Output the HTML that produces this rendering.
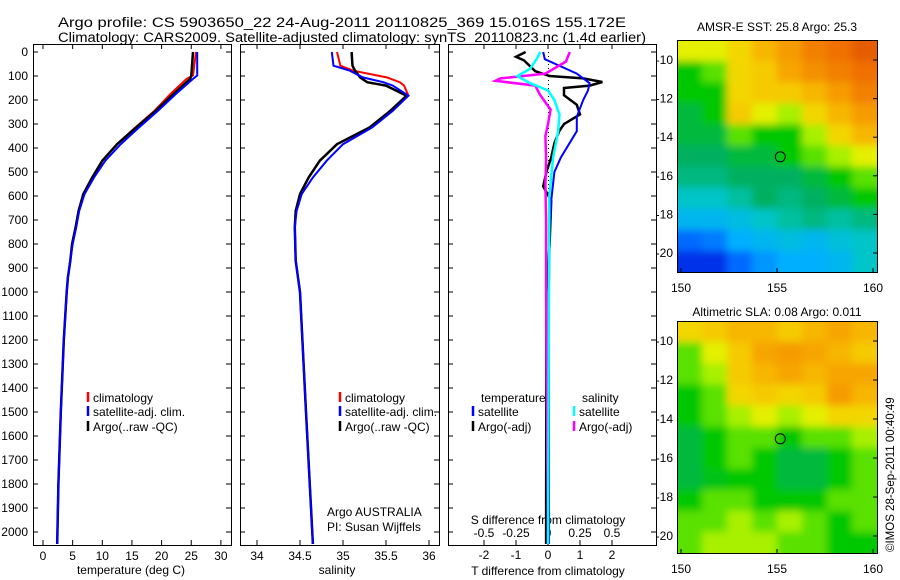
<!DOCTYPE html>
<html><head><meta charset="utf-8"><style>
html,body{margin:0;padding:0;background:#fff;}
svg{display:block;font-family:"Liberation Sans",sans-serif;font-size:12px;}
</style></head><body>
<svg id="s" width="900" height="580" viewBox="0 0 900 580">
<defs>
<filter id="soft" x="0" y="0" width="1" height="1"><feGaussianBlur stdDeviation="4"/></filter>
<clipPath id="c1"><rect x="677" y="40" width="200" height="232"/></clipPath>
<clipPath id="c2"><rect x="677" y="321" width="200" height="232"/></clipPath>
</defs>
<text x="58" y="27" font-size="13.5" textLength="568" lengthAdjust="spacingAndGlyphs">Argo profile: CS 5903650_22 24-Aug-2011 20110825_369 15.016S 155.172E</text>
<text x="58" y="42" font-size="13.5" textLength="588" lengthAdjust="spacingAndGlyphs">Climatology: CARS2009. Satellite-adjusted climatology: synTS_20110823.nc (1.4d earlier)</text>
<text x="131" y="574" text-anchor="middle">temperature (deg C)</text>
<text x="337" y="574" text-anchor="middle">salinity</text>
<text x="548" y="524" text-anchor="middle">S difference from climatology</text>
<text x="548" y="575" text-anchor="middle">T difference from climatology</text>
<text x="327" y="516">Argo AUSTRALIA</text>
<text x="327" y="531">PI: Susan Wijffels</text>
<text x="777" y="31" text-anchor="middle">AMSR-E SST: 25.8 Argo: 25.3</text>
<text x="777" y="316" text-anchor="middle">Altimetric SLA: 0.08 Argo: 0.011</text>
<text transform="translate(894,552) rotate(-90)" font-size="11.5">©IMOS 28-Sep-2011 00:40:49</text>
<g id="g"></g>
</svg>
<script>
// ---- data ----
const tDepths = [0,98,112,175,245,314,384,453,523,592,662,731,800,870,939,1000,1200,1500,1800,2050];
const tempClim = [25.8,25.3,24.2,21.5,18.8,15.6,12.5,10.0,8.3,6.8,6.0,5.5,4.9,4.6,4.2,4.0,3.5,3.0,2.6,2.4];
const tempSat  = [26.0,26.0,25.3,22.4,19.4,16.2,13.1,10.5,8.6,7.0,6.1,5.6,5.0,4.6,4.2,4.0,3.5,3.0,2.6,2.4];
const tempArgo = [25.3,25.0,24.8,22.0,19.0,15.7,12.5,10.0,8.3,6.8,6.0,5.5,4.9,4.6,4.2,4.0,3.5,3.0,2.6,2.4];
const sDepths = [0,57,78,106,126,140,182,245,314,384,453,523,592,662,731,870,1000,1500,2050];
const salClim = [34.93,34.97,35.12,35.51,35.66,35.71,35.76,35.55,35.31,34.93,34.73,34.60,34.50,34.45,34.44,34.45,34.50,34.57,34.65];
const salSat  = [34.87,34.89,35.08,35.23,35.47,35.58,35.76,35.58,35.34,35.00,34.81,34.65,34.52,34.46,34.44,34.45,34.50,34.57,34.65];
const salArgo = [35.10,35.11,35.14,35.20,35.28,35.50,35.74,35.55,35.31,34.93,34.73,34.60,34.50,34.45,34.44,34.45,34.50,34.57,34.65];
const tSatDepths = [0,30,90,130,160,200,270,330,440,500,620,740,1000,2050];
const tSatDiff = [-0.15,-0.1,0.9,1.3,1.25,1.1,0.9,0.9,0.4,0.2,0.1,0.05,0.03,0.03];
const tArgoDepths = [0,20,35,80,100,110,125,140,150,180,220,260,300,330,380,440,500,560,620,800,1000,2050];
const tArgoDiff = [-0.7,-1.0,-0.75,-0.4,0.05,1.1,1.7,1.3,0.5,0.5,0.9,1.0,0.5,0.35,0.2,0.1,-0.05,-0.15,0.1,0.05,-0.05,-0.06];
const sSatDepths = [0,30,70,100,130,160,200,260,330,440,600,2050];
const sSatDiff = [-0.06,-0.09,-0.14,-0.24,-0.14,0,0.05,0.09,0.08,0.04,0.01,0];
const sArgoDepths = [0,40,90,110,120,140,180,240,300,350,450,550,700,1000,2050];
const sArgoDiff = [0.17,0.14,-0.02,-0.37,-0.41,-0.1,-0.06,0.02,0,-0.02,-0.015,-0.02,-0.015,-0.015,0];
const depthTicks = [0,100,200,300,400,500,600,700,800,900,1000,1100,1200,1300,1400,1500,1600,1700,1800,1900,2000];
const tempTicks = [0,5,10,15,20,25,30];
const salTicks = [34,34.5,35,35.5,36];
const salTickLabels = ['34','34.5','35','35.5','36'];
const tDiffTicks = [-2,-1,0,1,2];
const sDiffTicks = [-0.5,-0.25,0,0.25,0.5];
const sDiffTickLabels = ['-0.5','-0.25','0','0.25','0.5'];
const sstGrid = [
[.65,.65,.7,.75,.8,.85,.88,.9],
[.5,.55,.7,.72,.78,.82,.85,.88],
[.5,.5,.7,.72,.72,.75,.8,.85],
[.45,.5,.72,.65,.6,.7,.75,.8],
[.45,.45,.55,.5,.5,.6,.7,.75],
[.42,.42,.45,.45,.5,.55,.6,.65],
[.4,.4,.42,.42,.42,.45,.5,.55],
[.35,.35,.38,.42,.4,.42,.45,.5],
[.3,.3,.32,.35,.38,.4,.38,.4],
[.2,.22,.28,.3,.32,.3,.33,.35],
[.12,.12,.2,.25,.28,.28,.3,.35]];
const slaGrid = [
[.7,.72,.75,.75,.72,.75,.78,.75],
[.55,.65,.72,.78,.8,.78,.75,.72],
[.55,.6,.72,.75,.78,.75,.78,.78],
[.5,.55,.7,.72,.7,.72,.8,.75],
[.5,.55,.6,.65,.6,.65,.7,.7],
[.45,.5,.55,.55,.5,.55,.55,.6],
[.45,.5,.55,.5,.45,.45,.5,.55],
[.45,.48,.5,.5,.45,.45,.5,.55],
[.5,.55,.55,.5,.5,.5,.55,.55],
[.55,.55,.6,.55,.6,.55,.5,.55],
[.55,.6,.6,.6,.55,.55,.5,.5]];
const lonTicks = [150,155,160];
const latTicks = [-10,-12,-14,-16,-18,-20];

// ---- drawing ----
const NS='http://www.w3.org/2000/svg';
const G=document.getElementById('g');
function mk(tag,attrs,parent){const e=document.createElementNS(NS,tag);for(const k in attrs)e.setAttribute(k,attrs[k]);(parent||G).appendChild(e);return e;}
const Y=d=>52+d*0.24;
const TOP=44,BOT=545;

function panel(x0,x1,name){
  const r=mk('rect',{x:x0+0.5,y:TOP+0.5,width:x1-x0,height:BOT-TOP,fill:'none',stroke:'#000','stroke-width':1});
  
  
}
function xTicks(xs,labels,fx,yl,name){
  xs.forEach((v,i)=>{const x=fx(v);
    mk('line',{x1:x,x2:x,y1:BOT,y2:BOT-5,stroke:'#000'});
    mk('line',{x1:x,x2:x,y1:TOP,y2:TOP+5,stroke:'#000'});
    const t=mk('text',{x:x,y:yl,'text-anchor':'middle'});t.textContent=labels[i];
    
    
  });
}
function yTicksFor(x0,x1,lab){
  depthTicks.forEach(d=>{const y=Y(d);
    mk('line',{x1:x0,x2:x0+5,y1:y,y2:y,stroke:'#000'});
    mk('line',{x1:x1,x2:x1-5,y1:y,y2:y,stroke:'#000'});
    if(lab){const t=mk('text',{x:28,y:y+4,'text-anchor':'end'});t.textContent=d;
      
      }
  });
}
function line(ds,vs,fx,color,name,w){
  const p=mk('polyline',{points:ds.map((d,i)=>fx(vs[i]).toFixed(1)+','+Y(d).toFixed(1)).join(' '),fill:'none',stroke:color,'stroke-width':w||2.5});
  
  
}
function legend(x,y,color,label,name){
  mk('line',{x1:x,x2:x,y1:y-10,y2:y,stroke:color,'stroke-width':2.5});
  const t=mk('text',{x:x+5,y:y});t.textContent=label;
  
  
}

// panel 1 temperature
const fT=v=>43+v*5.93;
panel(33,231,'temperature-panel');
yTicksFor(33,231,true);
xTicks(tempTicks,tempTicks.map(String),fT,560,'temperature-tick-label');
line(tDepths,tempClim,fT,'#f00','temperature-climatology-line',2);
line(tDepths,tempArgo,fT,'#000','temperature-argo-line',2.5);
line(tDepths,tempSat,fT,'#00f','temperature-satellite-line',2);
legend(88,402,'#f00','climatology','legend-climatology');
legend(88,416,'#00f','satellite-adj. clim.','legend-satellite-adj');
legend(88,431,'#000','Argo(..raw -QC)','legend-argo');

// panel 2 salinity
const fS=v=>257+(v-34)*86;
panel(240,439,'salinity-panel');
yTicksFor(240,439,false);
xTicks(salTicks,salTickLabels,fS,560,'salinity-tick-label');
line(sDepths,salClim,fS,'#f00','salinity-climatology-line',2);
line(sDepths,salArgo,fS,'#000','salinity-argo-line',2.5);
line(sDepths,salSat,fS,'#00f','salinity-satellite-line',2);
legend(340,402,'#f00','climatology','legend-climatology-2');
legend(340,416,'#00f','satellite-adj. clim.','legend-satellite-adj-2');
legend(340,431,'#000','Argo(..raw -QC)','legend-argo-2');

// panel 3 differences
const fTd=v=>548+v*32, fSd=v=>548+v*128;
panel(448,656,'difference-panel');
yTicksFor(448,656,false);
xTicks(tDiffTicks,tDiffTicks.map(String),fTd,559,'t-diff-tick-label');
sDiffTicks.forEach((v,i)=>{const t=mk('text',{x:fSd(v),y:537,'text-anchor':'middle'});t.textContent=sDiffTickLabels[i];
  
  });
mk('line',{x1:548.5,x2:548.5,y1:Y(0),y2:Y(1000),stroke:'#000','stroke-dasharray':'1,3'});
line(tArgoDepths,tArgoDiff,fTd,'#000','t-argo-diff-line');
line(tSatDepths,tSatDiff,fTd,'#00f','t-satellite-diff-line',2);
line(sArgoDepths,sArgoDiff,fSd,'#f0f','s-argo-diff-line');
line(sSatDepths,sSatDiff,fSd,'#0ff','s-satellite-diff-line');
{const t=mk('text',{x:481,y:402});t.textContent='temperature';}
{const t=mk('text',{x:582,y:402});t.textContent='salinity';}
legend(473,416,'#00f','satellite','legend-t-satellite');
legend(473,431,'#000','Argo(-adj)','legend-t-argo');
legend(574,416,'#0ff','satellite','legend-s-satellite');
legend(574,431,'#f0f','Argo(-adj)','legend-s-argo');

// maps
const stops=[[0,[0,0,144]],[.15,[0,64,255]],[.28,[0,176,255]],[.36,[0,200,192]],[.42,[0,176,96]],[.5,[0,200,0]],[.58,[144,240,0]],[.66,[240,240,0]],[.76,[248,176,0]],[.88,[240,112,0]],[1,[176,0,0]]];
function cmap(v){for(let i=1;i<stops.length;i++){if(v<=stops[i][0]){const a=stops[i-1],b=stops[i],f=(v-a[0])/(b[0]-a[0]);return 'rgb('+a[1].map((c,k)=>Math.round(c+(b[1][k]-c)*f)).join(',')+')';}}return 'rgb(176,0,0)';}
function map(grid,x0,y0,w,h,name,lat10y,lat20y,clip){
  const g=mk('g',{});
  
  
  const cg=mk('g',{'clip-path':'url(#'+clip+')'},g);
  const cells=mk('g',{filter:'url(#soft)'},cg);
  const rows=grid.length,cols=grid[0].length,cw=w/cols,ch=h/rows;
  grid.forEach((row,r)=>row.forEach((v,c)=>{mk('rect',{x:x0+c*cw-(c==0?8:0),y:y0+r*ch-(r==0?8:0),width:cw+0.6+(c==0||c==cols-1?8:0),height:ch+0.6+(r==0||r==rows-1?8:0),fill:cmap(v)},cells);}));
  mk('rect',{x:x0+0.5,y:y0+0.5,width:w,height:h,fill:'none',stroke:'#000'},g);
  const fLon=v=>681+(v-150)*19.2;
  lonTicks.forEach(v=>{const x=fLon(v);
    mk('line',{x1:x,x2:x,y1:y0+h,y2:y0+h-4,stroke:'#000'},g);
    const t=mk('text',{x:x,y:y0+h+20,'text-anchor':'middle'},g);t.textContent=v;
    
    });
  latTicks.forEach(v=>{const y=lat10y+(v+10)/-10*(lat20y-lat10y);
    mk('line',{x1:x0+w,x2:x0+w-4,y1:y,y2:y,stroke:'#000'},g);
    const t=mk('text',{x:x0-4,y:y+4,'text-anchor':'end'},g);t.textContent=v;
    
    });
  mk('circle',{cx:fLon(155.17),cy:lat10y+5.016/10*(lat20y-lat10y),r:5,fill:'none',stroke:'#000'},g);
}
map(sstGrid,677,40,200,232,'sst-map',60,253,'c1');
map(slaGrid,677,321,200,232,'sla-map',341,536,'c2');
</script>
</body></html>
